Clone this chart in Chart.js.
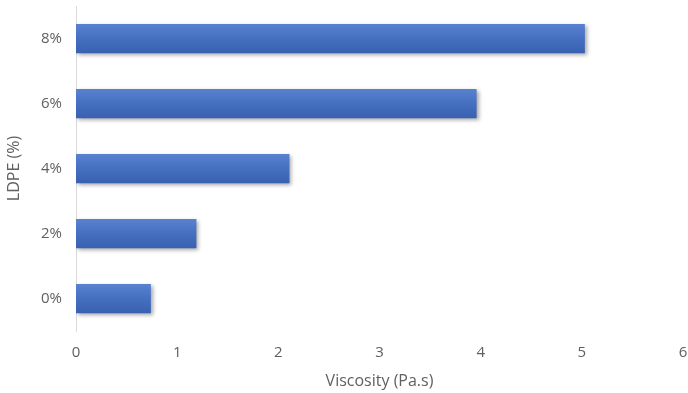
<!DOCTYPE html>
<html>
<head>
<meta charset="utf-8">
<script src="https://cdn.jsdelivr.net/npm/chart.js@4/dist/chart.umd.min.js"></script>
<style>
  html, body { margin: 0; padding: 0; background: #fff; }
  #wrap { width: 688px; height: 393px; }
</style>
</head>
<body>
<div id="wrap"><canvas id="viscosityChart"></canvas></div>
<script>
// LDPE content vs. viscosity
const categories = ['8%', '6%', '4%', '2%', '0%'];
const viscosity = [5.03, 3.96, 2.11, 1.19, 0.74];
const xTicks = [0, 1, 2, 3, 4, 5, 6];

const fontFamily = '"Open Sans", sans-serif';
const textColor = '#606060';

// vertical shading on each bar, lighter on top
function barGradient(context) {
    const chart = context.chart;
    const yScale = chart.scales.y;
    if (!yScale || context.dataIndex === undefined) return '#4470c2';
    const mid = yScale.getPixelForValue(context.dataIndex);
    if (!isFinite(mid)) return '#4470c2';
    const half = 15;
    const g = chart.ctx.createLinearGradient(0, mid - half, 0, mid + half);
    g.addColorStop(0, '#5a82d0');
    g.addColorStop(0.5, '#456fc1');
    g.addColorStop(1, '#3a60b0');
    return g;
}

// soft drop shadow under the bars
const barShadow = {
    id: 'barShadow',
    beforeDatasetsDraw(chart) {
        const ctx = chart.ctx;
        ctx.save();
        ctx.shadowColor = 'rgba(0,0,0,0.35)';
        ctx.shadowBlur = 4;
        ctx.shadowOffsetX = 2;
        ctx.shadowOffsetY = 2;
    },
    afterDatasetsDraw(chart) {
        chart.ctx.restore();
    }
};

const ctx = document.getElementById('viscosityChart').getContext('2d');
const viscosityChart = new Chart(ctx, {
    type: 'bar',
    data: {
        labels: categories,
        datasets: [{
            label: 'Viscosity',
            data: viscosity,
            backgroundColor: barGradient,
            borderWidth: 0,
            barPercentage: 0.9,
            categoryPercentage: 0.5
        }]
    },
    options: {
        indexAxis: 'y',
        responsive: true,
        maintainAspectRatio: false,
        animation: false,
        layout: { padding: { top: 6, right: 5, left: 0, bottom: 0 } },
        plugins: {
            legend: { display: false },
            tooltip: { enabled: false }
        },
        scales: {
            x: {
                min: 0,
                max: 6,
                afterBuildTicks: s => { s.ticks = xTicks.map(v => ({ value: v })); },
                afterFit: s => {
                    s.height = 62;
                    s.paddingLeft = 0;
                    s.paddingRight = 0;
                },
                grid: { display: false, drawTicks: false },
                border: { display: false },
                ticks: {
                    padding: 13,
                    color: textColor,
                    font: { family: fontFamily, size: 15 }
                },
                title: {
                    display: true,
                    text: 'Viscosity (Pa.s)',
                    color: textColor,
                    font: { family: fontFamily, size: 16 },
                    padding: { top: 0, bottom: 2 }
                }
            },
            y: {
                afterFit: s => {
                    s.width = 76;
                    s.paddingTop = 0;
                    s.paddingBottom = 0;
                },
                grid: { display: false, drawTicks: false },
                border: { display: true, color: '#d9d9d9', width: 1 },
                ticks: {
                    padding: 14,
                    color: textColor,
                    font: { family: fontFamily, size: 15 }
                },
                title: {
                    display: true,
                    text: 'LDPE (%)',
                    color: textColor,
                    font: { family: fontFamily, size: 16 },
                    padding: { top: 5, bottom: 0 }
                }
            }
        }
    },
    plugins: [barShadow]
});
</script>
</body>
</html>
